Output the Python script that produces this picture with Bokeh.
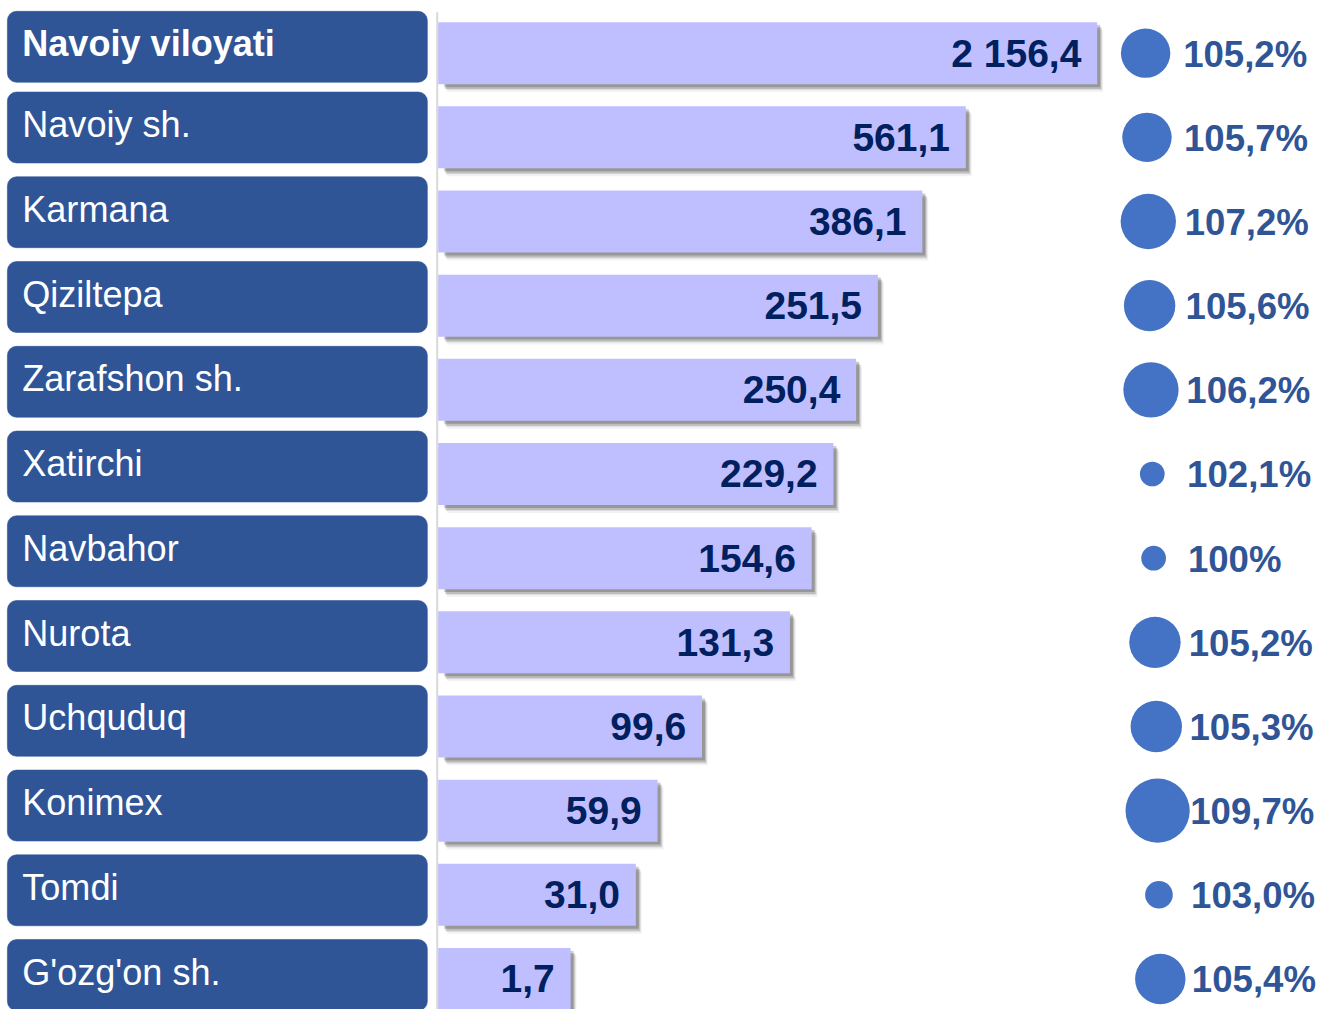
from bokeh.plotting import figure
from bokeh.models import ColumnDataSource, Range1d
from bokeh.core.properties import value
from bokeh.embed import file_html
from bokeh.resources import INLINE

# ---- data ----
regions = ["Navoiy viloyati", "Navoiy sh.", "Karmana", "Qiziltepa", "Zarafshon sh.",
           "Xatirchi", "Navbahor", "Nurota", "Uchquduq", "Konimex", "Tomdi", "G'ozg'on sh."]
values = [2156.4, 561.1, 386.1, 251.5, 250.4, 229.2, 154.6, 131.3, 99.6, 59.9, 31.0, 1.7]
growth = [105.2, 105.7, 107.2, 105.6, 106.2, 102.1, 100.0, 105.2, 105.3, 109.7, 103.0, 105.4]
# drawn bar lengths as shown in the chart (not proportional to values)
bar_len = [667, 534, 490, 445, 423, 400, 378, 356, 267, 222, 200, 134]
# bubble radii as shown in the chart
bubble_r = [25, 25, 28, 26, 28, 12.5, 12.5, 26, 26, 32.5, 14, 25.5]


def fmt_val(v):
    return f"{v:,.1f}".replace(",", " ").replace(".", ",")


def fmt_pct(g):
    if g == 100:
        return "100%"
    return f"{g:.1f}".replace(".", ",") + "%"


n = len(regions)
BOX_COL = "#2F5597"
BAR_COL = "#BFBFFF"
VAL_COL = "#002060"
PCT_COL = "#2F5597"
BUB_COL = "#4472C4"
FONT = value("Liberation Sans")

W, H = 1320, 1009
REF_W, REF_H = 1336, 1025
S = W / REF_W  # screen px per data unit
TXT_SHIFT = 15  # compensate baseline placement of text glyphs

X0 = 443
bar_top = [22 + 85.5 * i for i in range(n)]
bar_bot = [t + 63 for t in bar_top]
bar_mid = [t + 31.5 for t in bar_top]
bar_right = [X0 + L for L in bar_len]

box_top = [11] + [93 + 86.1 * (i - 1) for i in range(1, n)]
box_bot = [t + 72 for t in box_top]
box_mid = [(a + b) / 2 for a, b in zip(box_top, box_bot)]

p = figure(width=W, height=H, output_backend="svg", toolbar_location=None,
           x_range=Range1d(0, REF_W), y_range=Range1d(REF_H, 0),
           min_border=0)
p.axis.visible = False
p.grid.visible = False
p.outline_line_color = None
p.background_fill_color = "white"
p.border_fill_color = "white"

# label boxes
box_src = ColumnDataSource(dict(left=[7] * n, right=[432] * n, top=box_top, bottom=box_bot))
p.quad(left="left", right="right", top="top", bottom="bottom", source=box_src,
       fill_color=BOX_COL, line_color=BOX_COL, line_alpha=0.6, border_radius=9)

# region labels
fs_lab = f"{36.5 * S:.1f}px"
p.text(x="x", y="y", text="text",
       source=ColumnDataSource(dict(x=[22], y=[box_mid[0] + 12 - TXT_SHIFT], text=[regions[0]])),
       text_font=FONT, text_font_size=value(fs_lab), text_font_style="bold",
       text_color="white", text_align="left", text_baseline="alphabetic")
p.text(x="x", y="y", text="text",
       source=ColumnDataSource(dict(x=[22] * (n - 1), y=[m + 12 - TXT_SHIFT for m in box_mid[1:]],
                                    text=regions[1:])),
       text_font=FONT, text_font_size=value(fs_lab),
       text_color="white", text_align="left", text_baseline="alphabetic")

# separator line
p.segment(x0=[442], y0=[12], x1=[442], y1=[1040], line_color="#D9D9D9", line_width=2)

# bar shadows
for dx, dy, a in [(6, 8, 0.05), (5, 6, 0.09), (4, 5, 0.14), (3, 3, 0.2)]:
    p.quad(left=[X0 + 3 + dx] * n, right=[r + dx for r in bar_right],
           top=[t + dy for t in bar_top], bottom=[b + dy for b in bar_bot],
           fill_color="black", fill_alpha=a, line_color=None)

# bars
bar_src = ColumnDataSource(dict(left=[X0] * n, right=bar_right, top=bar_top, bottom=bar_bot))
p.quad(left="left", right="right", top="top", bottom="bottom", source=bar_src,
       fill_color=BAR_COL, line_color=None)

# value labels
val_src = ColumnDataSource(dict(x=[r - 16 for r in bar_right],
                                y=[m + 15 - TXT_SHIFT for m in bar_mid],
                                text=[fmt_val(v) for v in values]))
p.text(x="x", y="y", text="text", source=val_src, text_font=FONT,
       text_font_size=value(f"{39.5 * S:.1f}px"), text_font_style="bold", text_color=VAL_COL,
       text_align="right", text_baseline="alphabetic")

# bubbles
bub_src = ColumnDataSource(dict(x=[1159 + 1.35 * i for i in range(n)], y=bar_mid,
                                size=[2 * r * S for r in bubble_r]))
p.scatter(x="x", y="y", size="size", source=bub_src, marker="circle",
          fill_color=BUB_COL, line_color=None)

# percentage labels
pct_src = ColumnDataSource(dict(x=[1197 + 0.8 * i for i in range(n)],
                                y=[m + 16 - TXT_SHIFT for m in bar_mid],
                                text=[fmt_pct(g) for g in growth]))
p.text(x="x", y="y", text="text", source=pct_src, text_font=FONT,
       text_font_size=value(f"{37 * S:.1f}px"), text_font_style="bold", text_color=PCT_COL,
       text_align="left", text_baseline="alphabetic")

open("out.html", "w").write(file_html(p, INLINE))
